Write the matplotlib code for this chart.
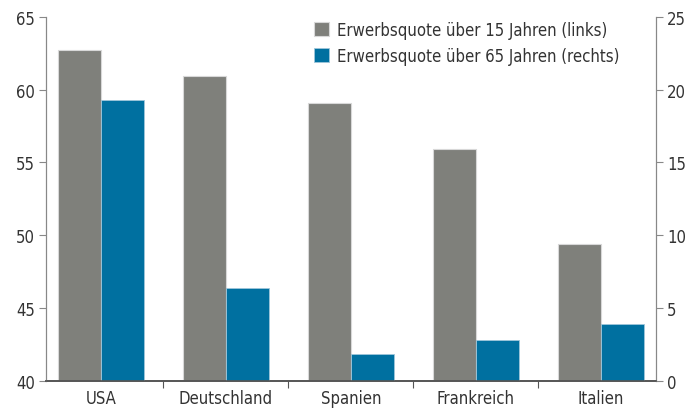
import numpy as np
import matplotlib
matplotlib.use("Agg")
import matplotlib.pyplot as plt

plt.rcParams['font.family'] = ['DejaVu Sans']
plt.rcParams['font.stretch'] = 'condensed'

# Daten
laender = ["USA", "Deutschland", "Spanien", "Frankreich", "Italien"]
quote_15 = [62.7, 60.9, 59.1, 55.9, 49.4]   # linke Achse
quote_65 = [19.3, 6.4, 1.85, 2.8, 3.9]      # rechte Achse
label_15 = "Erwerbsquote über 15 Jahren (links)"
label_65 = "Erwerbsquote über 65 Jahren (rechts)"

grau = "#7f807b"
blau = "#0070a0"
txt = "#333333"

fig = plt.figure(figsize=(6.97, 4.10), dpi=100)
ax = fig.add_axes([0.066, 0.068, 0.875, 0.889])
ax2 = ax.twinx()

x = np.arange(len(laender))
b = 0.345

b1 = ax.bar(x - b / 2, quote_15, b, color=grau, edgecolor="#d8d8d8", linewidth=0.8,
            label=label_15)
b2 = ax2.bar(x + b / 2, quote_65, b, color=blau, edgecolor="#9fc6da", linewidth=0.6,
             label=label_65)

ax.set_ylim(40, 65)
ax2.set_ylim(0, 25)
ax.set_xlim(-0.44, len(laender) - 1 + 0.44)
ax.set_yticks(np.arange(40, 66, 5))
ax2.set_yticks(np.arange(0, 26, 5))

# Kategorien-Trennstriche auf der x-Achse
ax.set_xticks(x[:-1] + 0.5)
ax.set_xticklabels([])
ax.set_xticks(x, minor=True)
ax.set_xticklabels(laender, minor=True)
ax.tick_params(axis="x", which="major", length=5, color="#555555", direction="out")
ax.tick_params(axis="x", which="minor", length=0, labelsize=12, labelcolor=txt, pad=6)

for a in (ax, ax2):
    a.spines["top"].set_visible(False)
    a.spines["left"].set_color("#888888")
    a.spines["right"].set_color("#888888")
    a.spines["bottom"].set_color("#555555")
    a.spines["bottom"].set_linewidth(1.2)
ax.tick_params(axis="y", length=5, color="#888888", labelsize=12, labelcolor=txt, pad=3)
ax2.tick_params(axis="y", length=5, color="#888888", labelsize=12, labelcolor=txt, pad=3)

ax2.legend([b1, b2], [label_15, label_65], loc="upper right", bbox_to_anchor=(0.965, 1.03),
           frameon=False, fontsize=12, handlelength=0.9, handleheight=0.9,
           handletextpad=0.5, labelspacing=0.5, labelcolor=txt)

fig.savefig("out.png", dpi=100)
